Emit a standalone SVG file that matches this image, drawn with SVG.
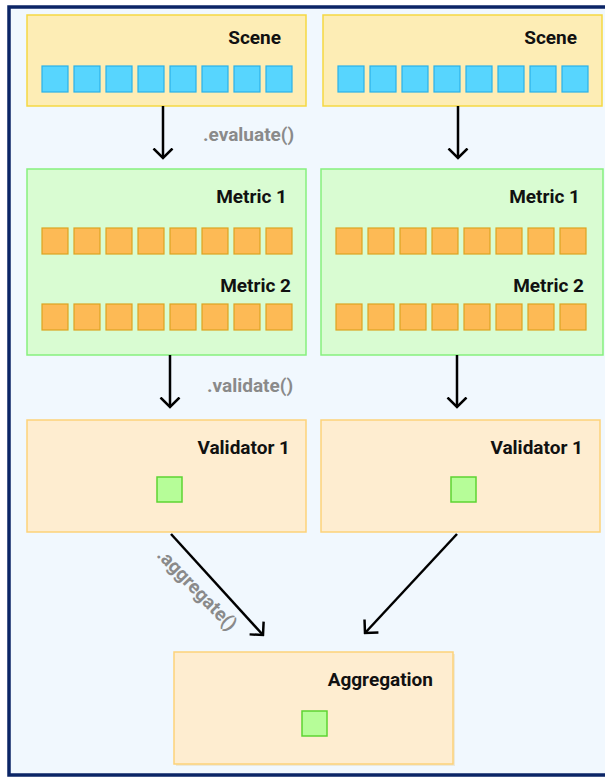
<svg xmlns="http://www.w3.org/2000/svg" width="605" height="778" viewBox="0 0 605 778">
<defs>
<style>
.scene{fill:#fdedb5;stroke:#f5d843;stroke-width:1.5}
.metric{fill:#d9fcd2;stroke:#86f07e;stroke-width:1.5}
.valid{fill:#feedd0;stroke:#fdd27a;stroke-width:1.5}
.blue{fill:#57d5fe;stroke:#2ab1e8;stroke-width:1.2}
.orange{fill:#fdba55;stroke:#dca420;stroke-width:1.2}
.green{fill:#b6fd98;stroke:#5dd432;stroke-width:1.5}
.lbl{font-family:Roboto,"Liberation Sans",sans-serif;font-weight:bold;font-size:19px;fill:#111;text-anchor:end}
.call{font-family:Roboto,"Liberation Sans",sans-serif;font-weight:bold;font-size:19px;fill:#8a8a8a}
.conn{stroke:#000;stroke-width:2.5;fill:none}
</style>
<marker id="arr" viewBox="0 0 12 22" refX="10.5" refY="11" markerWidth="12" markerHeight="22" markerUnits="userSpaceOnUse" orient="auto">
<path d="M1,1.5 L10.5,11 L1,20.5" fill="none" stroke="#000" stroke-width="2.5"/>
</marker>
<g id="bluerow">
<rect class="blue" x="0" y="0" width="26" height="26"/>
<rect class="blue" x="32" y="0" width="26" height="26"/>
<rect class="blue" x="64" y="0" width="26" height="26"/>
<rect class="blue" x="96" y="0" width="26" height="26"/>
<rect class="blue" x="128" y="0" width="26" height="26"/>
<rect class="blue" x="160" y="0" width="26" height="26"/>
<rect class="blue" x="192" y="0" width="26" height="26"/>
<rect class="blue" x="224" y="0" width="26" height="26"/>
</g>
<g id="orangerow">
<rect class="orange" x="0" y="0" width="26" height="26"/>
<rect class="orange" x="32" y="0" width="26" height="26"/>
<rect class="orange" x="64" y="0" width="26" height="26"/>
<rect class="orange" x="96" y="0" width="26" height="26"/>
<rect class="orange" x="128" y="0" width="26" height="26"/>
<rect class="orange" x="160" y="0" width="26" height="26"/>
<rect class="orange" x="192" y="0" width="26" height="26"/>
<rect class="orange" x="224" y="0" width="26" height="26"/>
</g>
</defs>
<rect x="0" y="0" width="605" height="778" fill="#ffffff"/>
<rect x="9" y="7" width="610" height="768" fill="#f1f8fe" stroke="#0b2566" stroke-width="3.5"/>

<g id="scene-left">
<rect class="scene" x="27" y="15" width="279" height="91"/>
<text class="lbl" x="281" y="44">Scene</text>
<use href="#bluerow" x="42" y="66"/>
</g>
<g id="scene-right">
<rect class="scene" x="323" y="15" width="279" height="91"/>
<text class="lbl" x="577" y="44">Scene</text>
<use href="#bluerow" x="338" y="66"/>
</g>

<g id="metrics-left">
<rect class="metric" x="27" y="169" width="279" height="186"/>
<text class="lbl" x="287" y="203">Metric 1</text>
<use href="#orangerow" x="42" y="228"/>
<text class="lbl" x="291" y="292">Metric 2</text>
<use href="#orangerow" x="42" y="304"/>
</g>
<g id="metrics-right">
<rect class="metric" x="321" y="169" width="282" height="186"/>
<text class="lbl" x="580" y="203">Metric 1</text>
<use href="#orangerow" x="336" y="228"/>
<text class="lbl" x="584" y="292">Metric 2</text>
<use href="#orangerow" x="336" y="304"/>
</g>

<g id="validator-left">
<rect class="valid" x="27" y="420" width="279" height="112"/>
<text class="lbl" x="290" y="454">Validator 1</text>
<rect class="green" x="157" y="477" width="25" height="25"/>
</g>
<g id="validator-right">
<rect class="valid" x="321" y="420" width="279" height="112"/>
<text class="lbl" x="583" y="454">Validator 1</text>
<rect class="green" x="451" y="477" width="25" height="25"/>
</g>

<g id="aggregation">
<rect x="176" y="654" width="279" height="112" fill="#e8d9b8" opacity="0.5"/>
<rect class="valid" x="174" y="652" width="279" height="112"/>
<text class="lbl" x="433" y="686">Aggregation</text>
<rect class="green" x="302" y="711" width="25" height="25"/>
</g>

<g id="connectors">
<line class="conn" x1="163" y1="106" x2="163" y2="158" marker-end="url(#arr)"/>
<line class="conn" x1="458" y1="106" x2="458" y2="158" marker-end="url(#arr)"/>
<line class="conn" x1="170" y1="355" x2="170" y2="407" marker-end="url(#arr)"/>
<line class="conn" x1="457" y1="355" x2="457" y2="407" marker-end="url(#arr)"/>
<line class="conn" x1="171" y1="534" x2="263" y2="635" marker-end="url(#arr)"/>
<line class="conn" x1="457" y1="534" x2="365" y2="633" marker-end="url(#arr)"/>
<text class="call" x="203" y="141">.evaluate()</text>
<text class="call" x="207" y="392">.validate()</text>
<text class="call" x="0" y="0" transform="translate(156,556) rotate(46)">.aggregate()</text>
</g>
</svg>
